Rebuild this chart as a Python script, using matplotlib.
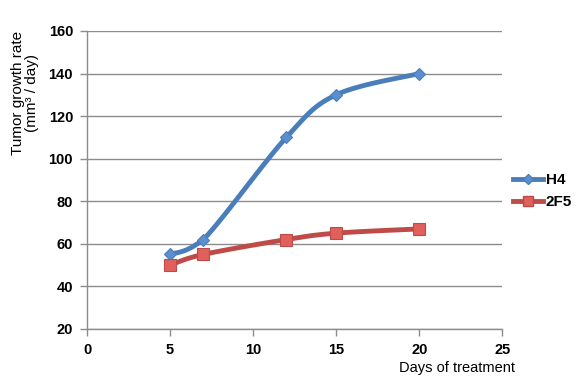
import numpy as np
import matplotlib
matplotlib.use("Agg")
import matplotlib.pyplot as plt

# data
days = [5, 7, 12, 15, 20]
h4 = [55, 62, 110, 130, 140]
f25 = [50, 55, 62, 65, 67]
series_names = ["H4", "2F5"]

x_ticks = [0, 5, 10, 15, 20, 25]
y_ticks = [20, 40, 60, 80, 100, 120, 140, 160]

BLUE_LINE = "#4A7EBB"
BLUE_MARK = "#5B8FD0"
RED_LINE = "#BE4B48"
RED_MARK = "#E0605C"

plt.rcParams['font.family'] = ['Liberation Sans', 'DejaVu Sans']


def smooth(xs, ys, n=30):
    """Excel-like smoothed line: cubic Bezier through points, no overshoot."""
    pts = np.column_stack([xs, ys]).astype(float)
    out = []
    for i in range(len(pts) - 1):
        p0 = pts[i - 1] if i > 0 else pts[i]
        p1 = pts[i]
        p2 = pts[i + 1]
        p3 = pts[i + 2] if i + 2 < len(pts) else pts[i + 1]
        c1 = p1 + (p2 - p0) / 6.0
        c2 = p2 - (p3 - p1) / 6.0
        lo, hi = min(p1[1], p2[1]), max(p1[1], p2[1])
        c1[1] = np.clip(c1[1], lo, hi)
        c2[1] = np.clip(c2[1], lo, hi)
        t = np.linspace(0, 1, n)[:, None]
        seg = ((1 - t) ** 3) * p1 + 3 * ((1 - t) ** 2) * t * c1 \
            + 3 * (1 - t) * t ** 2 * c2 + t ** 3 * p2
        out.append(seg if i == 0 else seg[1:])
    seg = np.vstack(out)
    return seg[:, 0], seg[:, 1]


fig = plt.figure(figsize=(5.8, 3.87), dpi=100)
ax = fig.add_axes([0.15, 0.15, 0.716, 0.77])

for ys, name, lc, mc, mk, ms in [
    (h4, series_names[0], BLUE_LINE, BLUE_MARK, "D", 6.5),
    (f25, series_names[1], RED_LINE, RED_MARK, "s", 8.5),
]:
    sx, sy = smooth(days, ys)
    ax.plot(sx, sy, color=lc, lw=3.5, solid_capstyle="round", zorder=3)
    ax.plot(days, ys, linestyle="none", marker=mk, markersize=ms,
            markerfacecolor=mc, markeredgecolor=lc, markeredgewidth=0.8,
            zorder=4)
    # legend proxy
    ax.plot([], [], color=lc, lw=3.5, marker=mk, markersize=ms - 1,
            markerfacecolor=mc, markeredgecolor=lc, label=name)

ax.set_xlim(0, 25)
ax.set_ylim(20, 160)
ax.set_xticks(x_ticks)
ax.set_yticks(y_ticks)
ax.set_xticklabels([str(v) for v in x_ticks], fontweight="bold", fontsize=10.5)
ax.set_yticklabels([str(v) for v in y_ticks], fontweight="bold", fontsize=10.5)

ax.grid(axis="y", color="#8c8c8c", lw=1)
ax.set_axisbelow(True)
for s in ["top", "right"]:
    ax.spines[s].set_visible(False)
for s in ["left", "bottom"]:
    ax.spines[s].set_color("#8c8c8c")
    ax.spines[s].set_linewidth(1)
ax.tick_params(axis="both", direction="out", length=5, color="#8c8c8c",
               width=1, pad=5)

fig.text(0.043, 0.76, "Tumor growth rate\n(mm³ / day)", rotation=90,
         ha="center", va="center", fontsize=11, linespacing=1.0,
         multialignment="center")
fig.text(0.788, 0.049, "Days of treatment", ha="center", va="center",
         fontsize=10.5)

leg = ax.legend(loc="center left", bbox_to_anchor=(0.884, 0.506),
                bbox_transform=fig.transFigure, frameon=False,
                borderaxespad=0, borderpad=0,
                handlelength=2.0, handletextpad=0.15, labelspacing=0.55,
                prop={"weight": "bold", "size": 11})

fig.savefig("out.png", dpi=100, facecolor="white")
